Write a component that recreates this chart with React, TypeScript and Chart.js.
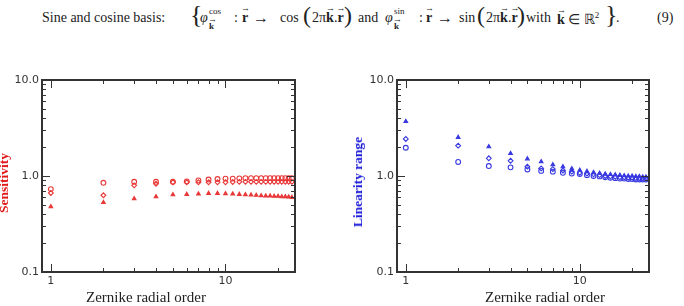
import React, { useEffect, useRef } from "react";
import { Chart, registerables } from "chart.js";

Chart.register(...registerables);

// Zernike radial orders sampled in both panels
const radialOrders = [1, 2, 3, 4, 5, 6, 7, 8, 9, 10, 11, 12, 13, 14, 15, 16, 17, 18, 19, 20, 21, 22, 23, 24];

// Sensitivity (left panel)
const sensCircle = [0.73, 0.85, 0.87, 0.87, 0.87, 0.88, 0.9, 0.92, 0.93, 0.94, 0.94, 0.945, 0.95, 0.95, 0.95, 0.95, 0.95, 0.95, 0.95, 0.95, 0.95, 0.95, 0.95, 0.95];
const sensDiamond = [0.665, 0.63, 0.8, 0.83, 0.86, 0.86, 0.86, 0.86, 0.86, 0.86, 0.865, 0.87, 0.87, 0.87, 0.87, 0.87, 0.87, 0.87, 0.87, 0.87, 0.87, 0.87, 0.87, 0.87];
const sensTriangle = [0.48, 0.53, 0.58, 0.61, 0.64, 0.645, 0.65, 0.66, 0.66, 0.655, 0.65, 0.645, 0.64, 0.635, 0.63, 0.625, 0.62, 0.62, 0.615, 0.615, 0.61, 0.61, 0.605, 0.6];

// Linearity range (right panel)
const linTriangle = [3.7, 2.53, 2.02, 1.72, 1.51, 1.41, 1.31, 1.25, 1.19, 1.15, 1.12, 1.09, 1.07, 1.05, 1.04, 1.03, 1.02, 1.01, 1.0, 1.0, 0.99, 0.99, 0.98, 0.98];
const linDiamond = [2.43, 2.07, 1.53, 1.44, 1.25, 1.2, 1.18, 1.14, 1.11, 1.08, 1.06, 1.04, 1.02, 1.0, 0.99, 0.98, 0.97, 0.97, 0.96, 0.96, 0.95, 0.95, 0.95, 0.95];
const linCircle = [1.97, 1.4, 1.27, 1.23, 1.17, 1.13, 1.11, 1.08, 1.06, 1.05, 1.02, 1.0, 0.99, 0.97, 0.96, 0.95, 0.94, 0.94, 0.93, 0.93, 0.92, 0.92, 0.92, 0.92];

// Axis tick labels
const yTickLabels: [number, string][] = [[0.1, "0.1"], [1, "1.0"], [10, "10.0"]];
const xTickLabels: [number, string][] = [[1, "1"], [10, "10"]];

// Tick marks: majors long, minors short, all pointing into the plot
const yMajor = [0.1, 1, 10];
const yMinor = [0.2, 0.3, 0.4, 0.5, 0.6, 0.7, 0.8, 0.9, 2, 3, 4, 5, 6, 7, 8, 9];
const xMajor = [1, 10];
const xMinor = [2, 3, 4, 5, 6, 7, 8, 9, 20];

const RED = "#e83838";
const BLUE = "#3838e0";
const CLEAR = "rgba(0,0,0,0)";

const near = (a: number, b: number) => Math.abs(a - b) < 1e-6 * Math.max(1, b);

type PanelProps = {
  color: string;
  circle: number[];
  diamond: number[];
  triangle: number[];
  axisWidth: number;
  plotRight: number;
};

function LogPanel({ color, circle, diamond, triangle, axisWidth, plotRight }: PanelProps) {
  const ref = useRef<HTMLCanvasElement>(null);
  useEffect(() => {
    if (!ref.current) return;
    const pts = (vals: number[]) => radialOrders.map((x, i) => ({ x, y: vals[i] }));
    const base = {
      showLine: false,
      borderColor: color,
      borderWidth: 1.1,
      radius: 2.4,
    };
    const tickFont = { family: "DejaVu Sans", size: 11 };

    // Boxed frame with inward ticks on all four sides
    const boxFrame = {
      id: "boxFrame",
      afterDraw(chart: any) {
        try {
          const ctx = chart.ctx;
          const a = chart.chartArea;
          const xs = chart.scales.x;
          const ys = chart.scales.y;
          ctx.save();
          ctx.strokeStyle = "#333";
          ctx.lineWidth = 1;
          ctx.beginPath();
          const yTick = (v: number, len: number) => {
            const p = Math.round(ys.getPixelForValue(v)) + 0.5;
            ctx.moveTo(a.left, p);
            ctx.lineTo(a.left + len, p);
            ctx.moveTo(a.right, p);
            ctx.lineTo(a.right - len, p);
          };
          const xTick = (v: number, len: number) => {
            const p = Math.round(xs.getPixelForValue(v)) + 0.5;
            ctx.moveTo(p, a.bottom);
            ctx.lineTo(p, a.bottom - len);
            ctx.moveTo(p, a.top);
            ctx.lineTo(p, a.top + len);
          };
          yMajor.forEach((v) => yTick(v, 8));
          yMinor.forEach((v) => yTick(v, 4));
          xMajor.forEach((v) => xTick(v, 8));
          xMinor.forEach((v) => xTick(v, 4));
          ctx.stroke();
          ctx.lineWidth = 2;
          ctx.strokeRect(a.left, a.top, a.right - a.left, a.bottom - a.top);
          ctx.restore();
        } catch (e) {
          // leave the chart as drawn
        }
      },
    };

    const chart = new Chart(ref.current, {
      type: "scatter",
      data: {
        datasets: [
          { ...base, data: pts(circle), pointStyle: "circle", backgroundColor: CLEAR },
          { ...base, data: pts(diamond), pointStyle: "rectRot", backgroundColor: CLEAR },
          { ...base, data: pts(triangle), pointStyle: "triangle", radius: 2.1, backgroundColor: color },
        ],
      },
      options: {
        animation: false,
        responsive: false,
        layout: { padding: { left: 0, top: 20, right: 342 - plotRight, bottom: 0 } },
        plugins: { legend: { display: false }, tooltip: { enabled: false } },
        scales: {
          x: {
            type: "logarithmic",
            min: 0.89,
            max: 25,
            grid: { display: false, drawTicks: false },
            border: { display: false },
            ticks: {
              autoSkip: false,
              maxRotation: 0,
              padding: 3,
              color: "#333",
              font: tickFont,
              callback: (v: any) => {
                const hit = xTickLabels.find(([t]) => near(Number(v), t));
                return hit ? hit[1] : "";
              },
            },
            afterFit: (s: any) => {
              s.height = 34;
            },
          },
          y: {
            type: "logarithmic",
            min: 0.1,
            max: 10,
            grid: { display: false, drawTicks: false },
            border: { display: false },
            ticks: {
              autoSkip: false,
              padding: 3,
              color: "#333",
              font: tickFont,
              callback: (v: any) => {
                const hit = yTickLabels.find(([t]) => near(Number(v), t));
                return hit ? hit[1] : "";
              },
            },
            afterFit: (s: any) => {
              s.width = axisWidth;
            },
          },
        },
      } as any,
      plugins: [boxFrame],
    });
    return () => chart.destroy();
  }, []);
  return <canvas ref={ref} width={342} height={246} style={{ position: "absolute", left: 0, top: 0, width: 342, height: 246 }} />;
}

const serif = "'Liberation Serif', 'Times New Roman', serif";

function Vec({ children }: { children: React.ReactNode }) {
  return (
    <span style={{ position: "relative", display: "inline-block", fontWeight: "bold" }}>
      {children}
      <span style={{ position: "absolute", left: -1, right: -2, top: -7, fontSize: 9, fontWeight: "normal", textAlign: "center" }}>→</span>
    </span>
  );
}

function Piece({ x, size = 14, top = 11, children, style }: { x: number; size?: number; top?: number; children: React.ReactNode; style?: React.CSSProperties }) {
  return (
    <span style={{ position: "absolute", left: x, top, fontSize: size, lineHeight: 1, whiteSpace: "nowrap", ...style }}>
      {children}
    </span>
  );
}

function Phi({ x, sup }: { x: number; sup: string }) {
  return (
    <>
      <Piece x={x} style={{ fontStyle: "italic" }}>φ</Piece>
      <Piece x={x + 9} size={9} top={7}>{sup}</Piece>
      <Piece x={x + 9} size={9} top={22}><Vec>k</Vec></Piece>
    </>
  );
}

function Formula() {
  return (
    <div style={{ position: "absolute", left: 0, top: 0, width: 684, height: 40, fontFamily: serif, color: "#222" }}>
      <Piece x={42}>Sine and cosine basis:</Piece>
      <Piece x={190} size={26} top={2}>{"{"}</Piece>
      <Phi x={200} sup="cos" />
      <Piece x={234}>:</Piece>
      <Piece x={242}><Vec>r</Vec></Piece>
      <Piece x={253} size={16} top={10}>→</Piece>
      <Piece x={280}>cos</Piece>
      <Piece x={303} size={24} top={3}>(</Piece>
      <Piece x={312}>2π<Vec>k</Vec>.<Vec>r</Vec></Piece>
      <Piece x={344} size={24} top={3}>)</Piece>
      <Piece x={358}>and</Piece>
      <Phi x={385} sup="sin" />
      <Piece x={419}>:</Piece>
      <Piece x={426}><Vec>r</Vec></Piece>
      <Piece x={437} size={16} top={10}>→</Piece>
      <Piece x={459}>sin</Piece>
      <Piece x={477} size={24} top={3}>(</Piece>
      <Piece x={486}>2π<Vec>k</Vec>.<Vec>r</Vec></Piece>
      <Piece x={517} size={24} top={3}>)</Piece>
      <Piece x={526}>with</Piece>
      <Piece x={557}><Vec>k</Vec> ∈ ℝ<sup style={{ fontSize: 9 }}>2</sup></Piece>
      <Piece x={605} size={26} top={2}>{"}"}</Piece>
      <Piece x={616}>.</Piece>
      <Piece x={657}>(9)</Piece>
    </div>
  );
}

export default function App() {
  const xTitle: React.CSSProperties = {
    position: "absolute",
    top: 297,
    transform: "translate(-50%, -50%)",
    fontFamily: serif,
    fontSize: 15,
    color: "#222",
    whiteSpace: "nowrap",
  };
  const yTitle: React.CSSProperties = {
    position: "absolute",
    transform: "translate(-50%, -50%) rotate(-90deg)",
    fontFamily: serif,
    fontSize: 13.5,
    fontWeight: "bold",
    whiteSpace: "nowrap",
  };
  return (
    <div style={{ position: "fixed", left: 0, top: 0, width: 684, height: 306, background: "#fff" }}>
      <Formula />
      <div style={{ position: "absolute", left: 0, top: 60, width: 342, height: 246 }}>
        <LogPanel color={RED} circle={sensCircle} diamond={sensDiamond} triangle={sensTriangle} axisWidth={42} plotRight={295} />
      </div>
      <div style={{ position: "absolute", left: 342, top: 60, width: 342, height: 246 }}>
        <LogPanel color={BLUE} circle={linCircle} diamond={linDiamond} triangle={linTriangle} axisWidth={55} plotRight={307} />
      </div>
      <div style={{ ...yTitle, left: 4, top: 183, color: "#e01818" }}>Sensitivity</div>
      <div style={{ ...yTitle, left: 358, top: 182, color: "#1818d8" }}>Linearity range</div>
      <div style={{ ...xTitle, left: 146 }}>Zernike radial order</div>
      <div style={{ ...xTitle, left: 545 }}>Zernike radial order</div>
    </div>
  );
}
